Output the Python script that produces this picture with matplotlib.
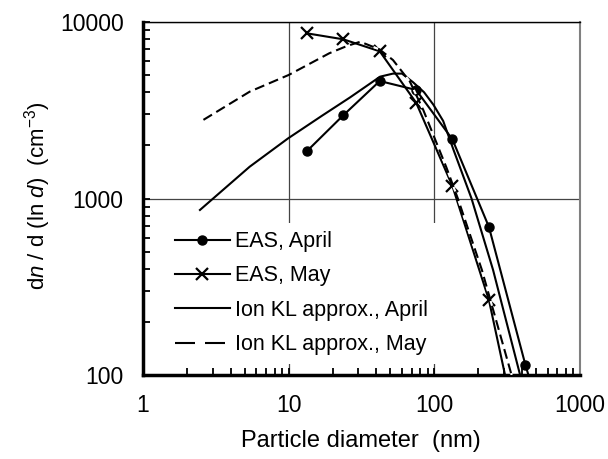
import numpy as np
import matplotlib
matplotlib.use("Agg")
import matplotlib.pyplot as plt
from matplotlib.lines import Line2D
from matplotlib.ticker import NullFormatter, FixedLocator

plt.rcParams['font.family'] = ['Liberation Sans', 'DejaVu Sans']
plt.rcParams['mathtext.fontset'] = 'custom'
plt.rcParams['mathtext.rm'] = 'Liberation Sans'
plt.rcParams['mathtext.it'] = 'Liberation Sans:italic'

# EAS measured spectra (channel diameters in nm)
d_eas = [13.3, 23.7, 42.2, 75.0, 133, 237, 422, 750]
eas_april = [1850, 2960, 4630, 4120, 2165, 690, 114, 23]
eas_may = [8630, 7980, 6820, 3490, 1178, 266, 29, np.nan]

# ion KL approximation curves
d_kl_april = [2.46, 5.4, 9.9, 17, 26.4, 42.4, 52, 60, 71.6, 85, 98.5, 115, 135, 180, 253, 388, 440]
kl_april = [861, 1514, 2190, 2950, 3740, 4900, 5100, 5100, 4550, 4000, 3400, 2750, 1900, 1000, 394, 100, 78]

d_kl_may = [2.6, 5.4, 10, 19, 25, 31, 42, 52, 68, 84, 121, 145, 212, 339, 380]
kl_may = [2790, 4030, 5010, 6650, 7300, 7730, 7000, 6090, 4590, 3170, 1500, 1000, 394, 100, 70]

labels = ['EAS, April', 'EAS, May', 'Ion KL approx., April', 'Ion KL approx., May']
x_ticks = [1, 10, 100, 1000]
y_ticks = [100, 1000, 10000]

fig = plt.figure(figsize=(6.08, 4.59), dpi=100)
ax = fig.add_axes([143 / 608, 1 - 375 / 459, 437 / 608, 353 / 459])

ax.plot(d_kl_april, kl_april, color='black', lw=1.5, zorder=3)
ax.plot(d_eas, eas_april, color='black', lw=1.5, marker='o', ms=6.5, zorder=4)
ax.plot(d_eas, eas_may, color='black', lw=1.5, marker='x', ms=8.5, mew=1.6, zorder=4)
ax.plot(d_kl_may, kl_may, color='black', lw=1.5, dashes=(4.8, 2.4), gapcolor='white', zorder=5)

ax.set_xscale('log')
ax.set_yscale('log')
ax.set_xlim(1, 1000)
ax.set_ylim(100, 10000)
ax.xaxis.set_major_locator(FixedLocator(x_ticks))
ax.yaxis.set_major_locator(FixedLocator(y_ticks))
ax.set_xticklabels([str(v) for v in x_ticks])
ax.set_yticklabels([str(v) for v in y_ticks])
ax.xaxis.set_minor_formatter(NullFormatter())
ax.yaxis.set_minor_formatter(NullFormatter())
ax.tick_params(which='both', direction='in', length=5, width=1.3, top=False, right=False,
               labelsize=16.5, pad=14)
ax.grid(which='major', color='#444444', lw=0.9)

ax.spines['left'].set_linewidth(2.5)
ax.spines['bottom'].set_linewidth(2.5)
ax.spines['top'].set_linewidth(1.0)
ax.spines['right'].set_linewidth(1.5)
ax.spines['right'].set_color('#808080')

handles = [
    Line2D([], [], color='black', lw=1.5, marker='o', ms=6.5),
    Line2D([], [], color='black', lw=1.5, marker='x', ms=8.5, mew=1.6),
    Line2D([], [], color='black', lw=1.5),
    Line2D([], [], color='black', lw=1.5, dashes=(9.6, 4.8)),
]
leg = ax.legend(handles, labels, loc='upper left', bbox_to_anchor=(0.0535, 0.432),
                fontsize=15.5, frameon=True, fancybox=False, framealpha=1,
                borderpad=0.4, labelspacing=0.62, handlelength=2.55, handletextpad=0.25,
                borderaxespad=0, numpoints=1)
leg.get_frame().set_edgecolor('none')
leg.set_zorder(6)

fig.text(361 / 608, 1 - 441 / 459, 'Particle diameter  (nm)', ha='center', va='center', fontsize=17)
fig.text(38 / 608, 1 - 196 / 459, 'd$n$ / d (ln $d$)  (cm$^{-3}$)', ha='center', va='center',
         rotation=90, fontsize=16)

fig.savefig('out.png', dpi=100)
